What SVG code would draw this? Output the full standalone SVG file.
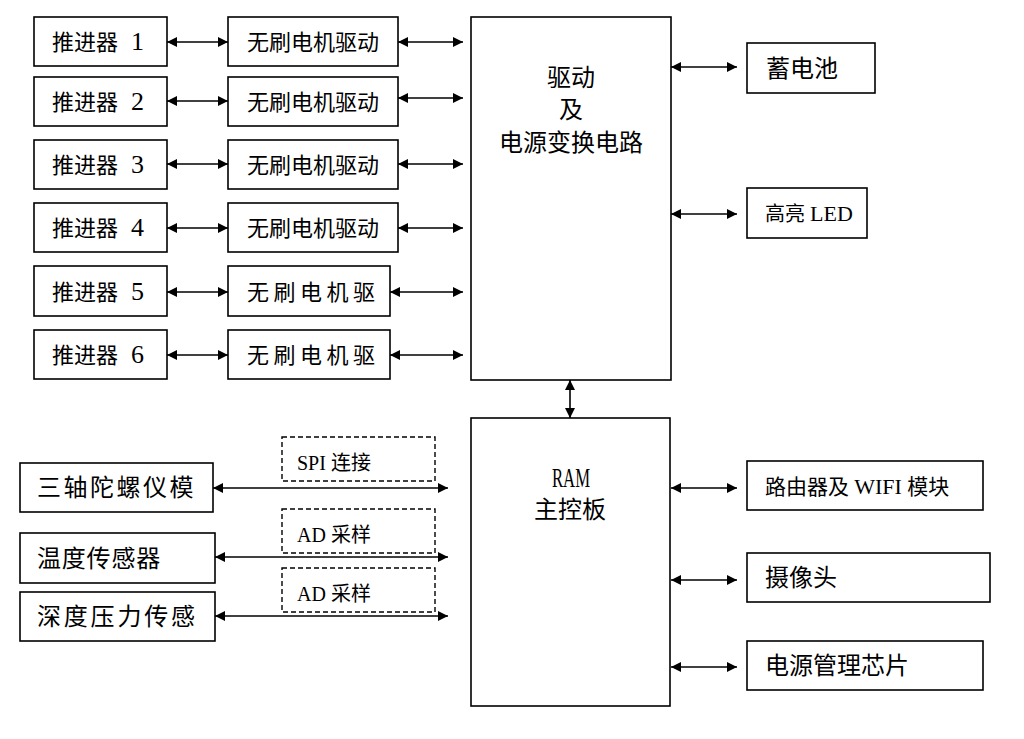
<svg xmlns="http://www.w3.org/2000/svg" width="1024" height="739" viewBox="0 0 1024 739">
<style>
.box{fill:#fff;stroke:#000;stroke-width:1.6}
.dash{fill:none;stroke:#000;stroke-width:1.4;stroke-dasharray:5 3}
.t{font-family:"Liberation Serif","Noto Sans CJK SC",serif;fill:#000}
.n{font-size:26px}
.c{stroke:#000;stroke-width:1.6;fill:none;marker-start:url(#a);marker-end:url(#a)}
</style>
<defs>
<marker id="a" viewBox="0 0 10 10" refX="10" refY="5" markerWidth="12" markerHeight="10" markerUnits="userSpaceOnUse" orient="auto-start-reverse">
<path d="M0,0 L10,5 L0,10 Z" fill="#000"/>
</marker>
</defs>
<rect width="1024" height="739" fill="#fff"/>
<g id="thrusters">
<g id="t1"><rect class="box" x="34" y="17" width="133" height="49"/><text class="t" x="52" y="50" font-size="22">推进器<tspan class="n" x="131">1</tspan></text></g>
<g id="t2"><rect class="box" x="34" y="77" width="133" height="49"/><text class="t" x="52" y="110" font-size="22">推进器<tspan class="n" x="131">2</tspan></text></g>
<g id="t3"><rect class="box" x="34" y="140" width="133" height="49"/><text class="t" x="52" y="173" font-size="22">推进器<tspan class="n" x="131">3</tspan></text></g>
<g id="t4"><rect class="box" x="34" y="203" width="133" height="49"/><text class="t" x="52" y="236" font-size="22">推进器<tspan class="n" x="131">4</tspan></text></g>
<g id="t5"><rect class="box" x="34" y="266" width="133" height="50"/><text class="t" x="52" y="300" font-size="22">推进器<tspan class="n" x="131">5</tspan></text></g>
<g id="t6"><rect class="box" x="34" y="330" width="133" height="49"/><text class="t" x="52" y="363" font-size="22">推进器<tspan class="n" x="131">6</tspan></text></g>
</g>
<g id="drivers">
<g id="d1"><rect class="box" x="228" y="17" width="170" height="49"/><text class="t" x="247" y="50" font-size="22">无刷电机驱动</text></g>
<g id="d2"><rect class="box" x="228" y="77" width="170" height="49"/><text class="t" x="247" y="110" font-size="22">无刷电机驱动</text></g>
<g id="d3"><rect class="box" x="228" y="140" width="170" height="49"/><text class="t" x="247" y="173" font-size="22">无刷电机驱动</text></g>
<g id="d4"><rect class="box" x="228" y="203" width="170" height="49"/><text class="t" x="247" y="236" font-size="22">无刷电机驱动</text></g>
<g id="d5"><rect class="box" x="228" y="266" width="162" height="50"/><text class="t" x="247" y="300" font-size="22" letter-spacing="4.5">无刷电机驱</text></g>
<g id="d6"><rect class="box" x="228" y="330" width="162" height="49"/><text class="t" x="247" y="363" font-size="22" letter-spacing="4.5">无刷电机驱</text></g>
</g>
<g id="power">
<rect class="box" x="471" y="17" width="200" height="363"/>
<text class="t" x="571" y="86" font-size="24" text-anchor="middle">驱动</text>
<text class="t" x="571" y="118" font-size="24" text-anchor="middle">及</text>
<text class="t" x="571" y="151" font-size="24" text-anchor="middle">电源变换电路</text>
</g>
<g id="battery"><rect class="box" x="747" y="43" width="128" height="50"/><text class="t" x="766" y="77" font-size="24">蓄电池</text></g>
<g id="led"><rect class="box" x="747" y="188" width="120" height="50"/><text class="t" x="765" y="221" font-size="20">高亮 <tspan font-size="22">LED</tspan></text></g>
<g id="main">
<rect class="box" x="471" y="418" width="199" height="288"/>
<text class="t" x="552" y="487" font-size="27" textLength="38" lengthAdjust="spacingAndGlyphs">RAM</text>
<text class="t" x="570" y="518" font-size="24" text-anchor="middle">主控板</text>
</g>
<g id="wifi"><rect class="box" x="747" y="461" width="236" height="49"/><text class="t" x="765" y="494" font-size="21">路由器及 <tspan font-size="22">WIFI</tspan> 模块</text></g>
<g id="camera"><rect class="box" x="747" y="553" width="243" height="49"/><text class="t" x="765" y="586" font-size="24">摄像头</text></g>
<g id="pmic"><rect class="box" x="747" y="641" width="236" height="49"/><text class="t" x="765" y="674" font-size="24">电源管理芯片</text></g>
<g id="gyro"><rect class="box" x="20" y="463" width="193" height="49"/><text class="t" x="37" y="496" font-size="24" letter-spacing="2.5">三轴陀螺仪模</text></g>
<g id="temp"><rect class="box" x="20" y="533" width="195" height="50"/><text class="t" x="37" y="567" font-size="24" letter-spacing="0.8">温度传感器</text></g>
<g id="depth"><rect class="box" x="20" y="592" width="195" height="49"/><text class="t" x="37" y="625" font-size="24" letter-spacing="2.8">深度压力传感</text></g>
<g id="labels">
<g id="spi"><rect class="dash" x="282" y="437" width="153" height="44"/><text class="t" x="297" y="470" font-size="20">SPI 连接</text></g>
<g id="ad1"><rect class="dash" x="282" y="509" width="153" height="44"/><text class="t" x="297" y="542" font-size="20">AD 采样</text></g>
<g id="ad2"><rect class="dash" x="282" y="568" width="153" height="44"/><text class="t" x="297" y="601" font-size="20">AD 采样</text></g>
</g>
<g id="connectors">
<line class="c" x1="167" y1="42" x2="228" y2="42"/>
<line class="c" x1="167" y1="101" x2="228" y2="101"/>
<line class="c" x1="167" y1="164" x2="228" y2="164"/>
<line class="c" x1="167" y1="228" x2="228" y2="228"/>
<line class="c" x1="167" y1="292" x2="228" y2="292"/>
<line class="c" x1="167" y1="355" x2="228" y2="355"/>
<line class="c" x1="398" y1="42" x2="463" y2="42"/>
<line class="c" x1="398" y1="98" x2="463" y2="98"/>
<line class="c" x1="398" y1="164" x2="463" y2="164"/>
<line class="c" x1="398" y1="228" x2="463" y2="228"/>
<line class="c" x1="390" y1="292" x2="463" y2="292"/>
<line class="c" x1="390" y1="355" x2="463" y2="355"/>
<line class="c" x1="671" y1="67" x2="737" y2="67"/>
<line class="c" x1="671" y1="214" x2="737" y2="214"/>
<line class="c" x1="570" y1="380" x2="570" y2="418"/>
<line class="c" x1="671" y1="488" x2="737" y2="488"/>
<line class="c" x1="671" y1="580" x2="737" y2="580"/>
<line class="c" x1="671" y1="667" x2="737" y2="667"/>
<line class="c" x1="213" y1="488" x2="448" y2="488"/>
<line class="c" x1="215" y1="557" x2="448" y2="557"/>
<line class="c" x1="215" y1="616" x2="448" y2="616"/>
</g>
</svg>
